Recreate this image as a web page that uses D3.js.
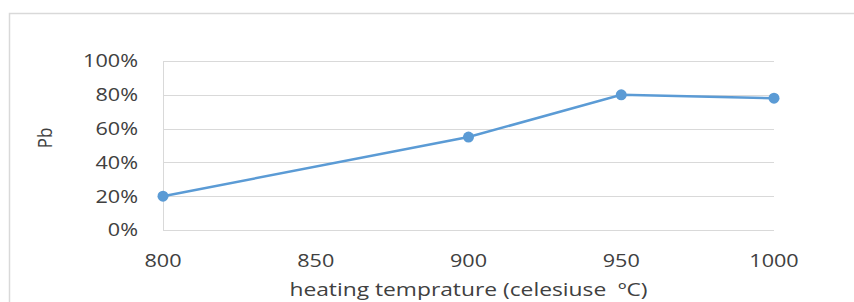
<!DOCTYPE html>
<html>
<head>
<meta charset="utf-8">
<script src="https://cdn.jsdelivr.net/npm/d3@7"></script>
<style>
  body { margin: 0; background: #fff; }
  text { font-family: "Open Sans", sans-serif; fill: #404040; }
</style>
</head>
<body>
<div id="chart"></div>
<script>
// Données
var temperatures = [800, 900, 950, 1000]
var pbValues = [0.20, 0.55, 0.80, 0.78]
var xTicks = [800, 850, 900, 950, 1000]
var yTicks = [0, 0.2, 0.4, 0.6, 0.8, 1.0]

var width = 854
var height = 302
var margin = { top: 61, right: 80, bottom: 72, left: 163 }
var stretch = 1.2  // le texte de l'original est étiré horizontalement

const svg = d3.select("#chart")
  .append("svg")
    .attr("width", width)
    .attr("height", height)

// Cadre extérieur
svg.append("rect")
  .attr("x", 9.5).attr("y", 13.5)
  .attr("width", width).attr("height", height)
  .attr("fill", "none")
  .attr("stroke", "#d9d9d9")
  .attr("stroke-width", 1.5)

const x = d3.scaleLinear()
  .domain([800, 1000])
  .range([margin.left, width - margin.right])

const y = d3.scaleLinear()
  .domain([0, 1])
  .range([height - margin.bottom, margin.top])

const fmt = d3.format(".0%")

// Lignes de grille horizontales
svg.append("g")
  .selectAll("line")
  .data(yTicks)
  .join("line")
    .attr("x1", x(800))
    .attr("x2", x(1000))
    .attr("y1", d => Math.round(y(d)) + 0.5)
    .attr("y2", d => Math.round(y(d)) + 0.5)
    .attr("stroke", "#d9d9d9")
    .attr("stroke-width", 1)

// Axe vertical (ligne)
svg.append("line")
  .attr("x1", x(800) + 0.5).attr("x2", x(800) + 0.5)
  .attr("y1", y(1)).attr("y2", y(0))
  .attr("stroke", "#d9d9d9")

// Etiquettes de l'axe Y
svg.append("g")
  .selectAll("text")
  .data(yTicks)
  .join("text")
    .attr("transform", d => "translate(138," + y(d) + ") scale(" + stretch + ",1)")
    .attr("text-anchor", "end")
    .attr("dy", "0.35em")
    .style("font-size", "18px")
    .text(d => fmt(d))

// Etiquettes de l'axe X
svg.append("g")
  .selectAll("text")
  .data(xTicks)
  .join("text")
    .attr("transform", d => "translate(" + x(d) + ",267) scale(" + stretch + ",1)")
    .attr("text-anchor", "middle")
    .style("font-size", "18px")
    .text(d => d)

// Titres des axes
svg.append("text")
  .attr("transform", "translate(" + (x(800) + x(1000)) / 2 + ",296) scale(" + stretch + ",1)")
  .attr("text-anchor", "middle")
  .style("font-size", "19px")
  .style("white-space", "pre")
  .text("heating temprature (celesiuse  ºC)")

svg.append("text")
  .attr("transform", "translate(52,138) rotate(-90) scale(1," + stretch + ")")
  .attr("text-anchor", "middle")
  .style("font-size", "17px")
  .text("Pb")

// Série
const data = temperatures.map((t, i) => ({ t: t, v: pbValues[i] }))

svg.append("path")
  .datum(data)
  .attr("fill", "none")
  .attr("stroke", "#5b9bd5")
  .attr("stroke-width", 2.5)
  .attr("d", d3.line().x(d => x(d.t)).y(d => y(d.v)))

svg.append("g")
  .selectAll("circle")
  .data(data)
  .join("circle")
    .attr("cx", d => x(d.t))
    .attr("cy", d => y(d.v))
    .attr("r", 5.5)
    .attr("fill", "#5b9bd5")
</script>
</body>
</html>
